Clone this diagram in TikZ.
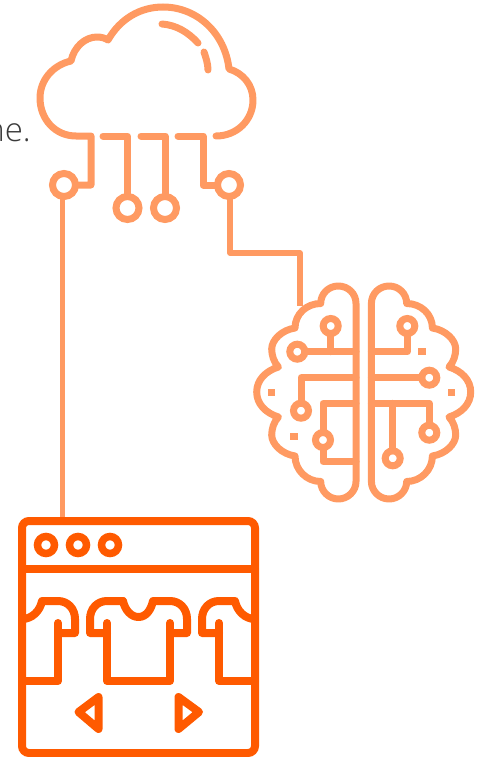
\documentclass[tikz,border=0pt]{standalone}
\usepackage{fontspec}
\setmainfont{Open Sans Light}
\usetikzlibrary{calc}
\definecolor{coral}{HTML}{FF9A62}
\definecolor{laranja}{HTML}{FF5A00}
\definecolor{texto}{HTML}{3A3A3A}

\begin{document}
\begin{tikzpicture}[
  x=1pt,y=-1pt,
  fio/.style={draw=coral,line width=7pt,line cap=round,line join=round},
  ligacao/.style={draw=coral,line width=5.5pt,line join=round},
  loja/.style={draw=laranja,line width=8pt,line cap=round,line join=round},
  porta/.style={circle,draw=coral,line width=7pt,minimum size=23pt,inner sep=0pt,outer sep=0pt},
  portinha/.style={circle,draw=coral,line width=7pt,minimum size=15pt,inner sep=0pt,outer sep=0pt},
  ponto/.style={fill=coral,minimum size=7.5pt,inner sep=0pt,outer sep=0pt},
  bolinha/.style={circle,draw=laranja,line width=7.5pt,minimum size=17pt,inner sep=0pt,outer sep=0pt},
  janela/.style={draw=laranja,line width=8pt,rounded corners=7pt,minimum width=233pt,
                 minimum height=232pt,inner sep=0pt,outer sep=0pt}
]
  \useasboundingbox (0,0) rectangle (481,757);
  \node[anchor=base east,font=\fontsize{33}{33}\selectfont,text=texto,inner sep=0pt] (resto) at (31,142) {ne.};

  % nuvem
  \node[porta] (portae) at (64,185) {};
  \node[porta] (portad) at (229,185) {};
  \node[porta] (portam1) at (127.5,208) {};
  \node[porta] (portam2) at (165,208) {};
  \coordinate (fio1) at (91,136);
  \coordinate (fio2) at (127.5,136);
  \coordinate (fio3) at (165,136);
  \coordinate (fio4) at (203,136);
  \draw[fio] (portae) -| (fio1) -- (76,136) .. controls (55,136) and (40,119) .. (40,98)
    .. controls (40,80) and (53,65) .. (71,61) .. controls (74,47) and (85,37) .. (97,37)
    .. controls (101,37) and (105,38) .. (108,40) .. controls (120,19) and (140,7) .. (163,7)
    .. controls (197,7) and (225,33) .. (229,69) .. controls (243,73) and (253,85) .. (253,100)
    .. controls (253,120) and (237,136) .. (216,136);
  \draw[fio] (103,136) -- (fio2) -- (portam1);
  \draw[fio] (141,136) -- (fio3) -- (portam2);
  \draw[fio] (178,136) -- (fio4) |- (portad);
  \draw[fio] (162,24) .. controls (176,25) and (188,32) .. (198,43);
  \draw[fio] (204,52) .. controls (206,58) and (208,64) .. (208,70);

  % ligacoes
  \node[janela] (janela) at (138.5,637) {};
  \coordinate (saida) at (62.5,197);
  \coordinate (entrada) at (300,306);
  \draw[ligacao] (saida) -- ($(saida |- janela.north)+(0,-4)$);
  \draw[ligacao] (230,197) |- (300,253) -- (entrada);

  % cerebro
  \foreach \lado in {-1,1}{
    \begin{scope}[shift={(363.7,0)},xscale=\lado]
      \draw[fio] (7.7,481.5) -- (7.7,303.5) .. controls (7.7,293.6) and (15.6,286) .. (25.4,286)
        .. controls (35,286) and (43,293.6) .. (43,303.5) .. controls (57,303.5) and (68.7,314) .. (68.7,328)
        .. controls (82,330) and (92,340) .. (92,349) .. controls (92,355) and (90,362) .. (85.3,367)
        .. controls (98,371) and (107,380) .. (107,392) .. controls (107,404) and (98,413) .. (85.3,417)
        .. controls (90,422) and (92,429) .. (92,435) .. controls (92,444) and (82,454) .. (68.7,456)
        .. controls (68.7,470) and (57,481.5) .. (43,481.5) .. controls (43,491) and (35,499) .. (25.4,499)
        .. controls (15.6,499) and (7.7,491) .. (7.7,481.5);
    \end{scope}
  }
  \coordinate (meioe) at (356,400);
  \coordinate (meiod) at (371.4,400);
  \node[portinha] (be1) at (330.7,326) {};
  \node[portinha] (be2) at (297.3,351.7) {};
  \node[portinha] (be3) at (301,410.7) {};
  \node[portinha] (be4) at (323,440) {};
  \node[portinha] (bd1) at (407.3,326) {};
  \node[portinha] (bd2) at (429.3,377.7) {};
  \node[portinha] (bd3) at (429.3,432.7) {};
  \node[portinha] (bd4) at (392.7,458.3) {};
  \node[ponto] (pt1) at (271.7,392.3) {};
  \node[ponto] (pt2) at (294,436.3) {};
  \node[ponto] (pt3) at (422,351.7) {};
  \node[ponto] (pt4) at (451.7,392.3) {};
  \draw[fio] (be2) -- (be2 -| meioe);
  \draw[fio] (be1) -- (be1 |- be2);
  \draw[fio] (be3) |- (356,377.7);
  \draw[fio] (356,403.3) -| (be4);
  \draw[fio] (be4) |- (356,461.7);
  \draw[fio] (bd1) |- (371.4,351.7);
  \draw[fio] (bd2) -- (bd2 -| meiod);
  \draw[fio] (371.4,403.3) -| (bd3);
  \draw[fio] (bd4) -- (bd4 |- 0,403.3);

  % vitrine
  \draw[loja] (janela.west |- 0,569) -- (janela.east |- 0,569);
  \node[bolinha] (b1) at (46,545) {};
  \node[bolinha] (b2) at (78,545) {};
  \node[bolinha] (b3) at (110,545) {};
  \draw[loja] (22,619) .. controls (32,619) and (40,611) .. (42,601) -- (58,601)
    .. controls (68,601) and (75,609) .. (75,619) -- (75,633) -- (58,633);
  \draw[loja] (58,623) -- (58,681) -- (22,681);
  \draw[loja] (123,601) -- (107,601) .. controls (97,601) and (90,609) .. (90,619) -- (90,633) -- (107,633);
  \draw[loja] (107,623) -- (107,681) -- (170,681) -- (170,623);
  \draw[loja] (170,633) -- (187,633) -- (187,619) .. controls (187,609) and (180,601) .. (170,601) -- (153,601)
    .. controls (151,610) and (146,617) .. (138.5,617) .. controls (131,617) and (125,610) .. (123,601);
  \draw[loja] (255,619) .. controls (245,619) and (237,611) .. (235,601) -- (219,601)
    .. controls (209,601) and (202,609) .. (202,619) -- (202,633) -- (219,633);
  \draw[loja] (219,623) -- (219,681) -- (255,681);
  \draw[loja] (78.5,712) -- (98.5,697) -- (98.5,729) -- cycle;
  \draw[loja] (199,712) -- (178.5,697) -- (178.5,729) -- cycle;
\end{tikzpicture}
\end{document}
